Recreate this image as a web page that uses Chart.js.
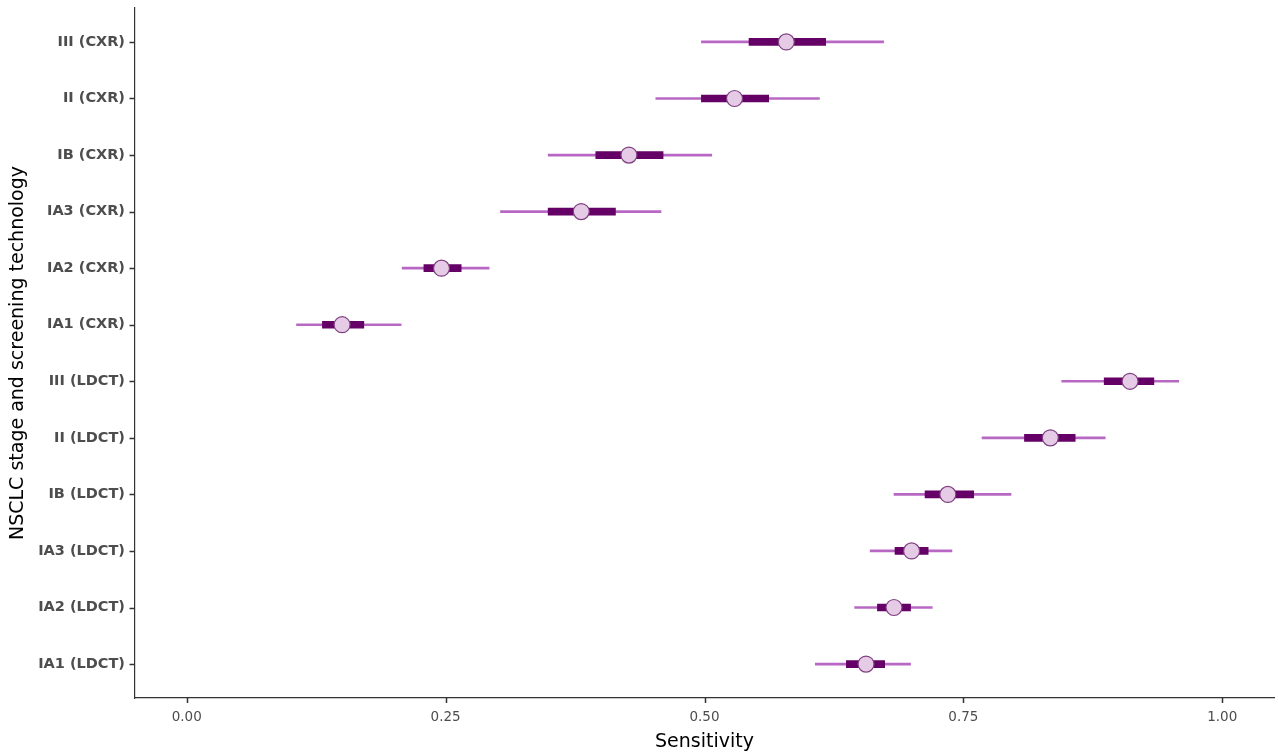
<!DOCTYPE html>
<html>
<head>
<meta charset="utf-8">
<script src="https://cdn.jsdelivr.net/npm/chart.js@4.4.0/dist/chart.umd.min.js"></script>
<style>
  html, body { margin: 0; padding: 0; background: #fff; }
  #wrap { width: 1278px; height: 753px; }
</style>
</head>
<body>
<div id="wrap"><canvas id="grafico" width="1278" height="753"></canvas></div>
<script>
const etiquetas = ["III (CXR)", "II (CXR)", "IB (CXR)", "IA3 (CXR)", "IA2 (CXR)", "IA1 (CXR)",
    "III (LDCT)", "II (LDCT)", "IB (LDCT)", "IA3 (LDCT)", "IA2 (LDCT)", "IA1 (LDCT)"]

// mediana de sensibilidad
const mediana = [0.579, 0.529, 0.427, 0.381, 0.246, 0.150, 0.911, 0.834, 0.735, 0.700, 0.683, 0.656]
// intervalo interno (barra gruesa)
const internoMin = [0.543, 0.497, 0.395, 0.349, 0.229, 0.131, 0.886, 0.809, 0.713, 0.684, 0.667, 0.637]
const internoMax = [0.617, 0.562, 0.460, 0.414, 0.265, 0.171, 0.934, 0.858, 0.760, 0.716, 0.699, 0.674]
// intervalo externo (línea fina)
const externoMin = [0.497, 0.453, 0.349, 0.303, 0.208, 0.106, 0.845, 0.768, 0.683, 0.660, 0.645, 0.607]
const externoMax = [0.673, 0.611, 0.507, 0.458, 0.292, 0.207, 0.958, 0.887, 0.796, 0.739, 0.720, 0.699]

const ticksX = [0, 0.25, 0.5, 0.75, 1]

const idx = etiquetas.map((_, i) => i)

// marcas de los ejes hacia afuera, como en ggplot
const marcasEjes = {
    id: "marcasEjes",
    afterDraw(chart) {
        const { ctx, chartArea } = chart
        const x = chart.scales.x
        const y = chart.scales.y
        ctx.save()
        ctx.strokeStyle = "#333333"
        ctx.lineWidth = 1.5
        ctx.beginPath()
        idx.forEach(v => {
            const py = Math.round(y.getPixelForValue(v)) + 0.5
            ctx.moveTo(chartArea.left - 5.5, py)
            ctx.lineTo(chartArea.left, py)
        })
        ticksX.forEach(v => {
            const px = Math.round(x.getPixelForValue(v)) + 0.5
            ctx.moveTo(px, chartArea.bottom)
            ctx.lineTo(px, chartArea.bottom + 5)
        })
        ctx.stroke()
        ctx.restore()
    }
}

new Chart(document.getElementById("grafico"), {
    type: "bar",
    data: {
        datasets: [
            {
                type: "bar",
                data: idx.map(i => ({ y: i, x: [externoMin[i], externoMax[i]] })),
                backgroundColor: "#b868c4",
                barThickness: 2,
                grouped: false,
                order: 3
            },
            {
                type: "bar",
                data: idx.map(i => ({ y: i, x: [internoMin[i], internoMax[i]] })),
                backgroundColor: "#650066",
                barThickness: 7,
                grouped: false,
                order: 2
            },
            {
                type: "line",
                data: idx.map(i => ({ y: i, x: mediana[i] })),
                showLine: false,
                pointRadius: 8,
                pointBackgroundColor: "#e5cbe5",
                pointBorderColor: "#7e3f80",
                pointBorderWidth: 1.2,
                order: 1
            }
        ]
    },
    options: {
        indexAxis: "y",
        responsive: false,
        animation: false,
        layout: { autoPadding: false, padding: { top: 8, right: 4, bottom: 0, left: 0 } },
        plugins: { legend: { display: false }, tooltip: { enabled: false } },
        scales: {
            y: {
                type: "linear",
                reverse: true,
                offset: false,
                min: -0.6,
                max: 11.6,
                afterBuildTicks: s => { s.ticks = idx.map(v => ({ value: v })) },
                afterFit: s => { s.width = 135; s.paddingTop = 0; s.paddingBottom = 0 },
                ticks: {
                    callback: v => etiquetas[v],
                    color: "#4d4d4d",
                    font: { family: "DejaVu Sans", size: 14.5, weight: "bold" },
                    padding: 5
                },
                grid: { display: false, tickLength: 5 },
                border: { display: true, color: "#333", width: 1.2 },
                title: {
                    display: true,
                    text: "NSCLC stage and screening technology",
                    color: "#000",
                    font: { family: "DejaVu Sans", size: 19 },
                    padding: { top: 7, bottom: 0 }
                }
            },
            x: {
                type: "linear",
                offset: false,
                min: -0.05,
                max: 1.05,
                afterBuildTicks: s => { s.ticks = ticksX.map(v => ({ value: v })) },
                afterFit: s => { s.height = 55; s.paddingLeft = 0; s.paddingRight = 0 },
                ticks: {
                    callback: v => v.toFixed(2),
                    color: "#4d4d4d",
                    font: { family: "DejaVu Sans", size: 13.5 },
                    padding: 7,
                    maxRotation: 0
                },
                grid: { display: false, tickLength: 4 },
                border: { display: true, color: "#333", width: 1.2 },
                title: {
                    display: true,
                    text: "Sensitivity",
                    color: "#000",
                    font: { family: "DejaVu Sans", size: 19 },
                    padding: { top: 0, bottom: 0 }
                }
            }
        }
    },
    plugins: [marcasEjes]
})
</script>
</body>
</html>
